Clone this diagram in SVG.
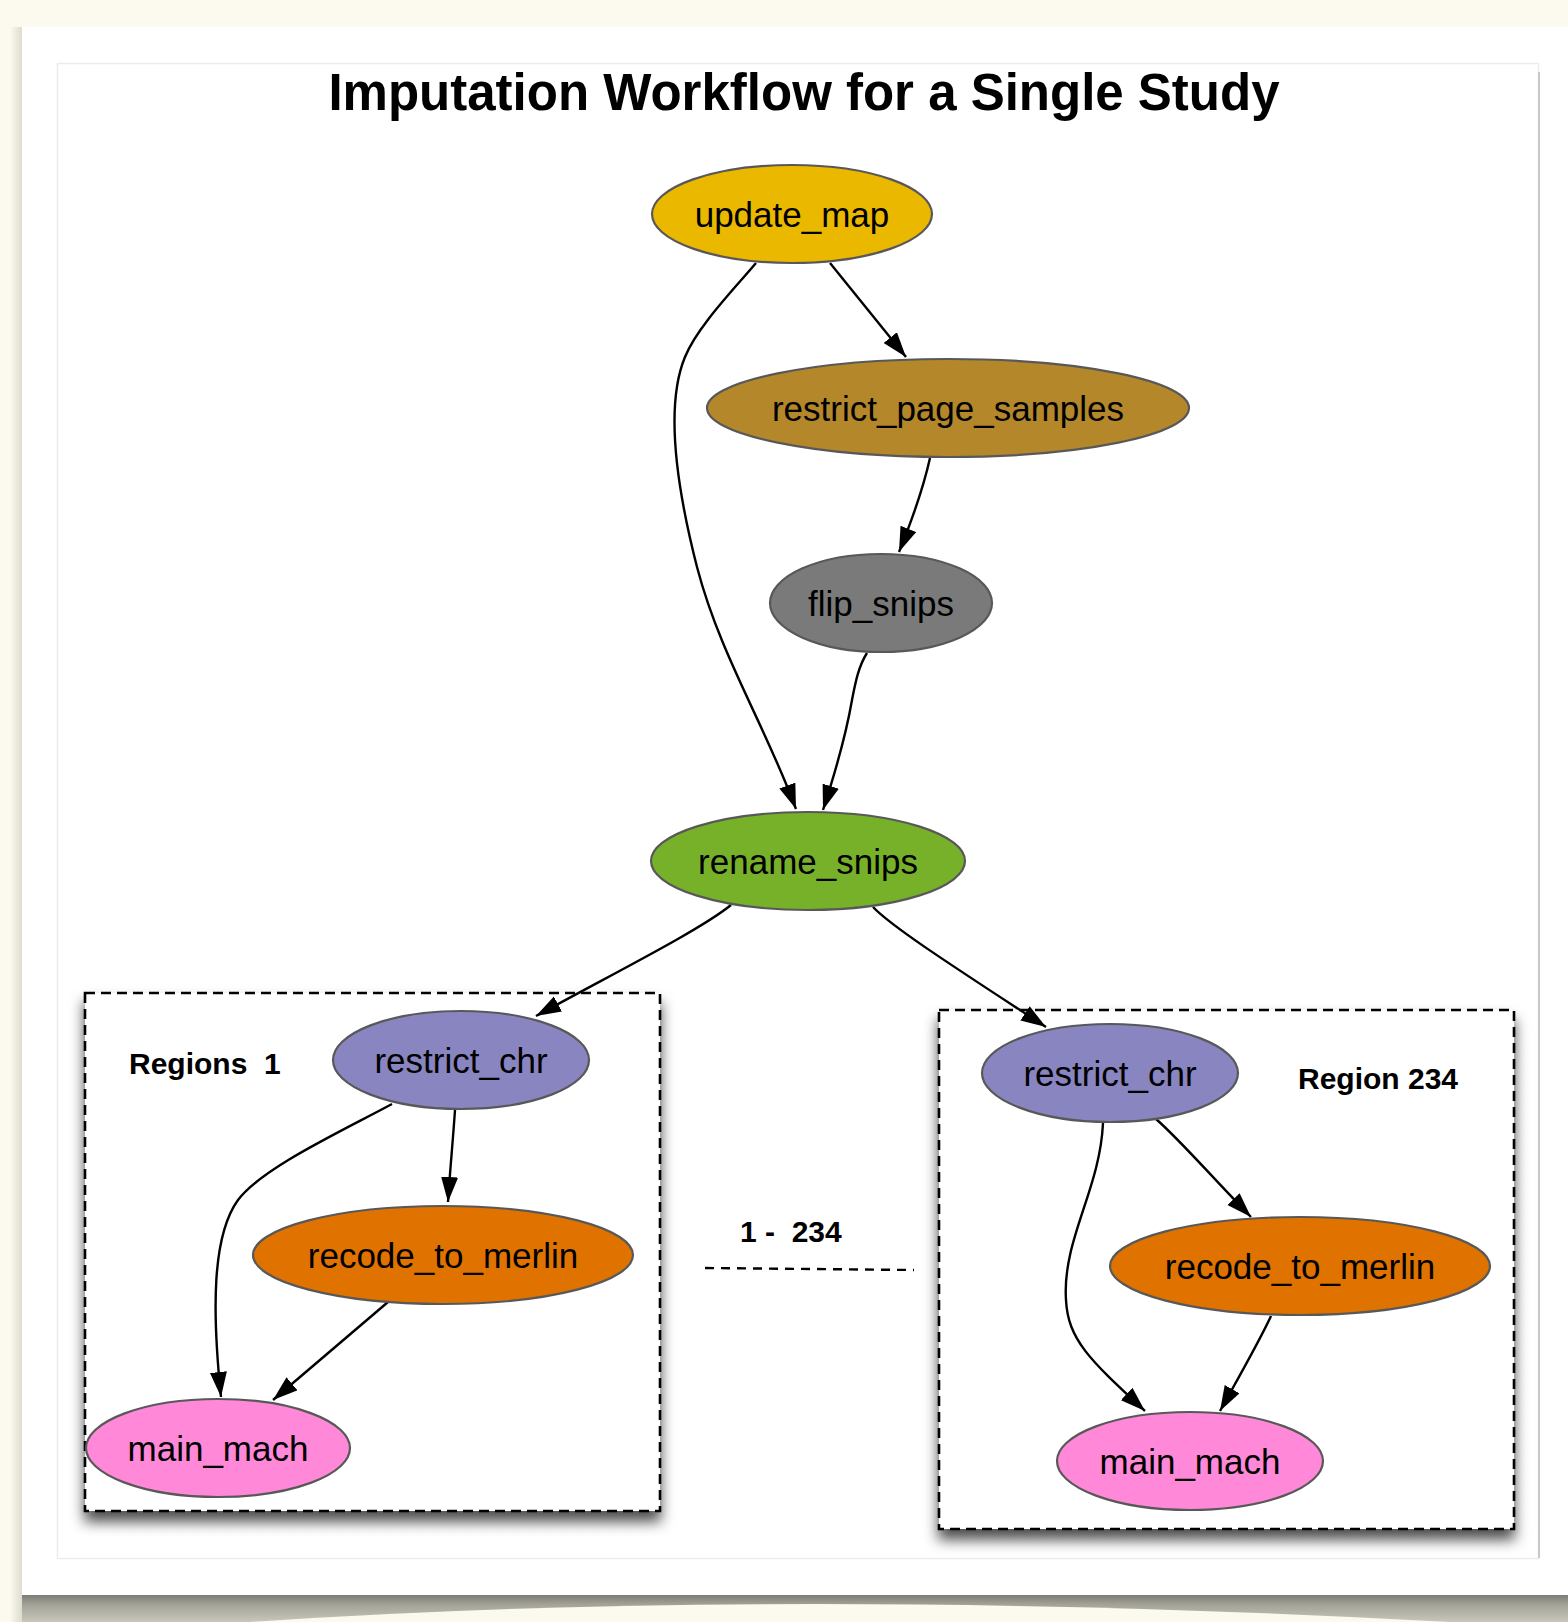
<svg xmlns="http://www.w3.org/2000/svg" width="1568" height="1622" viewBox="0 0 1568 1622">
<defs>
<style>
.node ellipse{stroke:#585858;stroke-width:2.2}
.node text{font-family:"Liberation Sans",Arial,Helvetica,sans-serif;font-size:35px;fill:#000;text-anchor:middle}
.edge{fill:none;stroke:#000;stroke-width:2.4;marker-end:url(#arrow)}
.lbl{font-family:"Liberation Sans",Arial,Helvetica,sans-serif;font-size:30px;font-weight:bold;fill:#000;white-space:pre}
.cluster{fill:#fff;stroke:#000;stroke-width:2.6;stroke-dasharray:10 6;filter:url(#shadow)}
</style>
<marker id="arrow" markerUnits="userSpaceOnUse" markerWidth="26" markerHeight="18" refX="25" refY="8.5" orient="auto">
<path d="M0,0 L25,8.5 L0,17 z" fill="#000"/>
</marker>
<filter id="shadow" x="-10%" y="-10%" width="120%" height="125%">
<feDropShadow dx="0" dy="10" stdDeviation="7" flood-color="#000" flood-opacity="0.7"/>
</filter>
<linearGradient id="curl" x1="0" y1="0" x2="0" y2="1">
<stop offset="0" stop-color="#7c7c75"/>
<stop offset="0.35" stop-color="#a3a298"/>
<stop offset="1" stop-color="#c9c7ba"/>
</linearGradient>
<linearGradient id="lside" x1="0" y1="0" x2="1" y2="0">
<stop offset="0" stop-color="#fcf9ee"/>
<stop offset="1" stop-color="#dedbcf"/>
</linearGradient>
</defs>
<rect x="0" y="0" width="1568" height="1622" fill="#fcf9ee"/>
<rect x="10" y="27" width="12" height="1595" fill="url(#lside)"/>
<rect x="22" y="1595" width="1546" height="27" fill="url(#curl)"/>
<path d="M250,1622 Q780,1586 1450,1622 Z" fill="#fcf9ee"/>
<rect x="22" y="27" width="1546" height="1568" fill="#fff"/>
<rect x="57.5" y="63.5" width="1481" height="1495" fill="none" stroke="#ececec" stroke-width="1.5"/>
<line x1="1539" y1="72" x2="1539" y2="1558" stroke="#c8c8c8" stroke-width="2"/>
<text x="804" y="110" font-family="'Liberation Sans',Arial,Helvetica,sans-serif" font-size="51" font-weight="bold" text-anchor="middle">Imputation Workflow for a Single Study</text>
<g id="cluster_1">
<rect class="cluster" x="85" y="993" width="575" height="518"/>
<text class="lbl" x="129" y="1074">Regions  1</text>
</g>
<g id="cluster_234">
<rect class="cluster" x="939" y="1010" width="575" height="519"/>
<text class="lbl" x="1298" y="1089">Region 234</text>
</g>
<g id="separator">
<line x1="705" y1="1268" x2="914" y2="1270" stroke="#000" stroke-width="2.4" stroke-dasharray="9 7"/>
<text class="lbl" x="740" y="1242">1 -  234</text>
</g>
<g id="edges">
<path class="edge" d="M756,263 C735,288 697,327 685,357 C665,405 676,485 697,567 C720,655 765,725 796,809"/>
<path class="edge" d="M830,263 L906,357"/>
<path class="edge" d="M930,458 C924,485 912,520 899,552"/>
<path class="edge" d="M867,653 C858,667 855,685 852,700 C846,735 836,770 823,810"/>
<path class="edge" d="M731,905 C700,930 620,970 536,1016"/>
<path class="edge" d="M873,907 C890,925 940,958 1046,1027"/>
<path class="edge" d="M392,1104 C340,1132 262,1168 238,1200 C212,1236 212,1310 221,1397"/>
<path class="edge" d="M455,1110 C453,1140 450,1170 448,1202"/>
<path class="edge" d="M388,1302 L273,1400"/>
<path class="edge" d="M1156,1119 C1180,1140 1210,1175 1251,1217"/>
<path class="edge" d="M1103,1123 C1100,1190 1062,1240 1066,1300 C1068,1340 1090,1360 1145,1411"/>
<path class="edge" d="M1271,1316 C1260,1340 1240,1375 1220,1411"/>
</g>
<g id="update_map" class="node">
<ellipse cx="792" cy="214" rx="140" ry="49" fill="#ebb800"/>
<text x="792" y="227">update_map</text>
</g>
<g id="restrict_page_samples" class="node">
<ellipse cx="948" cy="408" rx="241" ry="49" fill="#b4872a"/>
<text x="948" y="421">restrict_page_samples</text>
</g>
<g id="flip_snips" class="node">
<ellipse cx="881" cy="603" rx="111" ry="49" fill="#7a7a7a"/>
<text x="881" y="616">flip_snips</text>
</g>
<g id="rename_snips" class="node">
<ellipse cx="808" cy="861" rx="157" ry="49" fill="#77b12a"/>
<text x="808" y="874">rename_snips</text>
</g>
<g id="restrict_chr_1" class="node">
<ellipse cx="461" cy="1060" rx="128" ry="49" fill="#8985c0"/>
<text x="461" y="1073">restrict_chr</text>
</g>
<g id="recode_to_merlin_1" class="node">
<ellipse cx="443" cy="1255" rx="190" ry="49" fill="#e07300"/>
<text x="443" y="1268">recode_to_merlin</text>
</g>
<g id="main_mach_1" class="node">
<ellipse cx="218" cy="1448" rx="132" ry="49" fill="#ff88d8"/>
<text x="218" y="1461">main_mach</text>
</g>
<g id="restrict_chr_234" class="node">
<ellipse cx="1110" cy="1073" rx="128" ry="49" fill="#8985c0"/>
<text x="1110" y="1086">restrict_chr</text>
</g>
<g id="recode_to_merlin_234" class="node">
<ellipse cx="1300" cy="1266" rx="190" ry="49" fill="#e07300"/>
<text x="1300" y="1279">recode_to_merlin</text>
</g>
<g id="main_mach_234" class="node">
<ellipse cx="1190" cy="1461" rx="133" ry="49" fill="#ff88d8"/>
<text x="1190" y="1474">main_mach</text>
</g>
</svg>
